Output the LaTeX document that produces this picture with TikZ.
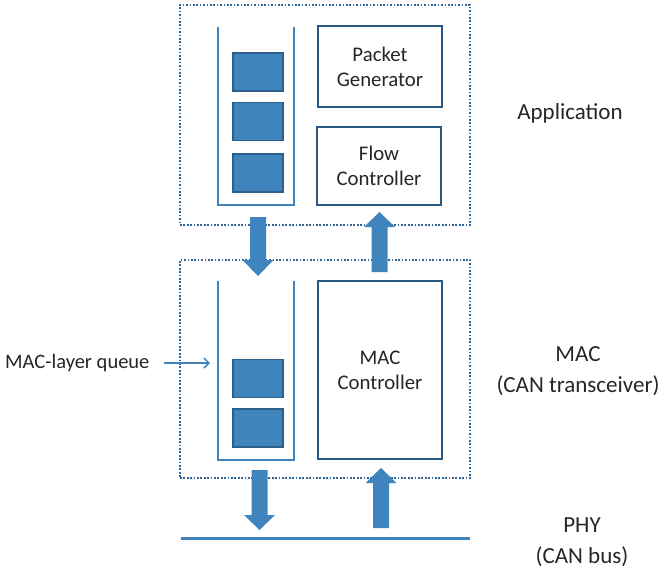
\documentclass[tikz,border=0pt]{standalone}
\usepackage{fontspec}
\setmainfont{Carlito}
\usetikzlibrary{arrows.meta}
\definecolor{fillblue}{HTML}{4084BE}
\definecolor{edgeblue}{HTML}{2C5F8C}
\definecolor{boxblue}{HTML}{2A5A84}
\definecolor{frameblue}{HTML}{2F6595}
\definecolor{textgray}{HTML}{262626}

% thick block arrow: x centre, tail y, head-base y, tip y
\newcommand{\bararrow}[4]{%
  \fill[fillblue] (#1-8,#2) -- (#1-8,#3) -- (#1-15.5,#3) -- (#1,#4)
    -- (#1+15.5,#3) -- (#1+8,#3) -- (#1+8,#2) -- cycle;}

\begin{document}
\begin{tikzpicture}[x=1pt,y=-1pt,
  layer/.style={draw=frameblue, line width=1.7pt, dash pattern=on 1.7pt off 1.7pt,
    inner sep=0pt, outer sep=0pt},
  unit/.style={draw=boxblue, line width=1.6pt, fill=white, inner sep=0pt,
    minimum width=124pt, align=center, text=textgray,
    font=\fontsize{20.8}{25}\selectfont},
  packet/.style={draw=edgeblue, line width=1.4pt, fill=fillblue,
    minimum width=50pt, minimum height=38pt, inner sep=0pt},
  queue/.style={draw=fillblue, line width=1.6pt},
  side/.style={align=center, text=textgray, font=\fontsize{23}{30.5}\selectfont},
  note/.style={text=textgray, font=\fontsize{20.5}{24}\selectfont}]
\useasboundingbox (0,0) rectangle (659,574);

% layer frames
\node[layer, minimum width=290pt, minimum height=220pt] (app) at (325,115) {};
\node[layer, minimum width=290pt, minimum height=218pt] (mac) at (325,369) {};

% application layer
\node[unit, minimum height=81pt] (gen) at (380,66.5) {Packet\\Generator};
\node[unit, minimum height=78pt] (flow) at (379,166) {Flow\\Controller};
\draw[queue] (218,27) -- (218,205) -- (294,205) -- (294,27);
\node[packet] (ap1) at (258,72) {};
\node[packet] (ap2) at (258,121.5) {};
\node[packet] (ap3) at (258,173) {};

% MAC layer
\node[unit, minimum height=178pt] (ctrl) at (380,370) {MAC\\Controller};
\draw[queue] (218,281) -- (218,460) -- (294,460) -- (294,281);
\node[packet] (mp1) at (258,378.5) {};
\node[packet] (mp2) at (258,428) {};

% bus line
\coordinate (busL) at (181,538);
\coordinate (busR) at (470,538);
\draw[fillblue, line width=3pt] (busL) -- (busR);

% data flow between layers
\bararrow{258}{217}{260}{276}
\bararrow{379.5}{272}{227}{212}
\bararrow{259.5}{470}{515}{530}
\bararrow{381}{528}{483}{468}

% queue annotation
\node[note, anchor=east] (qlabel) at (153,363) {MAC-layer queue};
\coordinate (qtip) at (210,363);
\draw[fillblue, line width=1.5pt, -{Straight Barb[length=5pt,width=10pt]}]
  (qlabel.east) ++(11,0) -- (qtip);

% layer names
\node[side] (appname) at (570,113) {Application};
\node[side] (macname) at (578,371) {MAC\\(CAN transceiver)};
\node[side] (phyname) at (582,542) {PHY\\(CAN bus)};
\end{tikzpicture}
\end{document}
